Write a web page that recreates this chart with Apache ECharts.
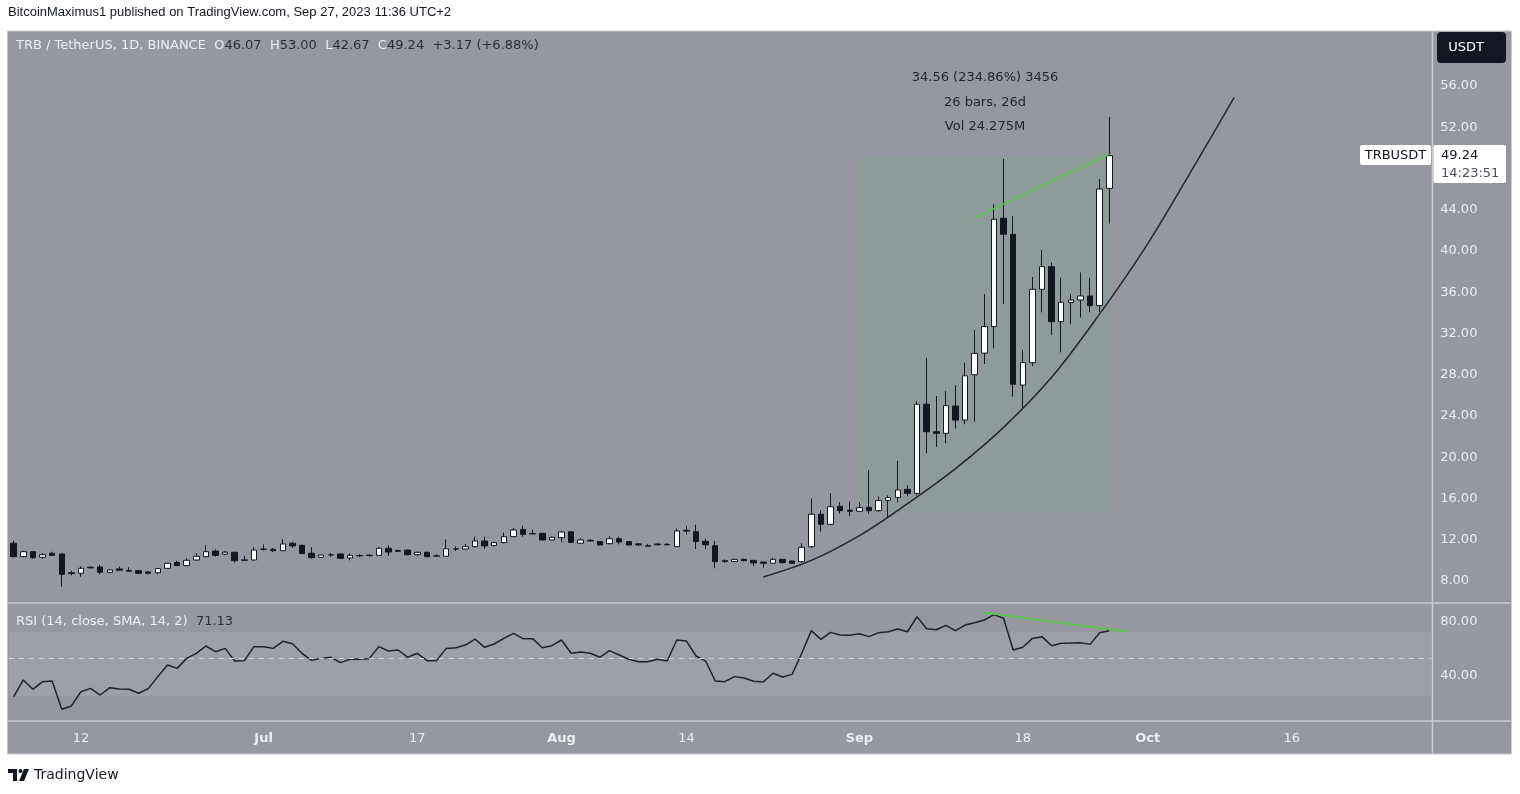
<!DOCTYPE html>
<html>
<head>
<meta charset="utf-8">
<title>TRB / TetherUS 1D</title>
<script src="https://cdn.jsdelivr.net/npm/echarts@6/dist/echarts.min.js"></script>
<style>
  html, body { margin: 0; padding: 0; background: #ffffff; }
  #main { width: 1520px; height: 794px; }
</style>
</head>
<body>
<div id="main"></div>
<script>
var chartDom = document.getElementById('main');
var myChart = echarts.init(chartDom, null, { renderer: 'canvas' });
var option;

const FONT = '"DejaVu Sans", Verdana, sans-serif';
const PUB_FONT = '"Liberation Sans", Arial, sans-serif';

// daily bars, 2023-06-05 .. 2023-09-27
const opens = [
  11.66, 10.36, 10.84, 10.30, 10.69, 10.62, 8.80, 8.75, 9.34, 9.36,
  8.84, 9.17, 9.02, 9.00, 8.88, 8.80, 9.23, 9.80, 9.49, 10.04,
  10.36, 10.90, 10.60, 10.78, 10.00, 10.04, 11.06, 11.07, 10.94, 11.66,
  11.46, 10.69, 10.30, 10.52, 10.62, 10.23, 10.47, 10.50, 10.49, 11.17,
  10.95, 11.00, 10.55, 10.78, 10.40, 10.40, 11.10, 11.10, 11.33, 11.88,
  11.43, 11.72, 12.30, 12.98, 12.60, 12.62, 11.98, 12.20, 12.78, 11.66,
  11.95, 11.82, 11.62, 12.10, 11.82, 11.60, 11.42, 11.58, 11.56, 11.33,
  12.92, 12.78, 11.85, 11.43, 9.97, 9.90, 10.10, 10.00, 9.84, 9.72,
  10.10, 9.94, 9.87, 11.33, 14.47, 13.50, 15.24, 14.86, 14.76, 15.14,
  14.82, 15.82, 16.10, 16.89, 16.50, 25.14, 22.48, 22.32, 24.97, 23.61,
  28.00, 30.10, 32.67, 43.18, 41.62, 27.00, 29.17, 36.29, 38.48, 33.15,
  35.00, 35.25, 35.64, 34.70, 46.07
];
const highs = [
  11.91, 10.95, 10.90, 10.72, 10.84, 10.66, 8.98, 9.42, 9.40, 9.55,
  9.15, 9.40, 9.33, 9.05, 8.95, 9.25, 9.75, 9.97, 10.20, 10.69,
  11.46, 11.07, 10.90, 10.85, 10.42, 11.27, 11.56, 11.20, 12.04, 11.80,
  11.50, 11.27, 10.55, 10.70, 10.65, 10.69, 10.60, 10.62, 11.30, 11.46,
  11.05, 11.05, 10.85, 10.85, 10.60, 12.04, 11.35, 11.60, 12.30, 12.30,
  11.80, 12.70, 13.14, 13.36, 12.98, 12.65, 12.30, 12.85, 12.82, 12.15,
  12.05, 11.85, 12.35, 12.30, 11.85, 11.68, 11.60, 11.70, 11.66, 13.10,
  13.33, 13.46, 12.10, 11.90, 10.10, 10.15, 10.18, 10.05, 9.90, 10.25,
  10.15, 9.98, 11.66, 16.00, 14.85, 16.50, 15.65, 15.70, 15.65, 18.76,
  16.20, 16.30, 19.64, 17.30, 25.45, 29.65, 25.94, 26.42, 27.00, 29.17,
  32.34, 35.83, 44.53, 48.92, 43.37, 30.40, 37.48, 40.10, 38.87, 37.41,
  35.83, 37.93, 37.41, 46.98, 53.00
];
const lows = [
  10.30, 10.30, 10.16, 10.16, 10.45, 7.45, 8.55, 8.42, 9.22, 8.65,
  8.78, 8.98, 8.92, 8.70, 8.65, 8.65, 9.20, 9.45, 9.45, 9.98,
  10.30, 10.36, 10.50, 9.78, 9.95, 9.98, 10.95, 10.80, 10.90, 11.20,
  10.60, 10.20, 10.25, 10.35, 10.18, 10.00, 10.35, 10.38, 10.45, 10.45,
  10.80, 10.50, 10.45, 10.30, 10.38, 10.35, 10.90, 11.05, 11.25, 11.10,
  11.35, 11.65, 12.25, 12.30, 12.52, 11.95, 11.95, 11.78, 11.70, 11.60,
  11.80, 11.45, 11.55, 11.55, 11.45, 11.38, 11.35, 11.42, 11.45, 11.30,
  12.50, 11.10, 11.10, 9.23, 9.75, 9.85, 9.92, 9.45, 9.30, 9.65,
  9.72, 9.65, 9.80, 11.20, 12.79, 13.40, 14.55, 14.30, 14.71, 14.55,
  14.71, 14.20, 15.65, 16.20, 16.30, 20.40, 21.00, 21.36, 22.80, 23.20,
  23.45, 29.04, 30.56, 34.86, 25.88, 24.65, 28.85, 34.05, 31.85, 30.17,
  32.90, 33.54, 34.05, 34.10, 42.67
];
const closes = [
  10.36, 10.84, 10.26, 10.55, 10.49, 8.65, 8.72, 9.23, 9.28, 8.84,
  9.07, 9.04, 8.95, 8.75, 8.75, 9.20, 9.72, 9.50, 10.01, 10.39,
  10.84, 10.49, 10.80, 9.97, 10.05, 11.00, 11.10, 10.94, 11.59, 11.40,
  10.66, 10.26, 10.52, 10.55, 10.20, 10.49, 10.44, 10.46, 11.17, 10.81,
  10.88, 10.55, 10.78, 10.36, 10.44, 11.12, 11.12, 11.33, 11.88, 11.40,
  11.72, 12.30, 12.95, 12.53, 12.57, 11.98, 12.24, 12.75, 11.75, 11.98,
  11.88, 11.49, 12.10, 11.78, 11.49, 11.50, 11.38, 11.52, 11.52, 12.85,
  12.84, 11.82, 11.52, 9.87, 9.90, 10.10, 9.97, 9.75, 9.72, 10.10,
  9.78, 9.72, 11.27, 14.47, 13.50, 15.20, 14.82, 14.76, 15.11, 14.82,
  15.79, 16.08, 16.82, 16.50, 25.14, 22.48, 22.32, 25.00, 23.61, 27.90,
  30.08, 32.67, 43.08, 41.62, 27.08, 29.17, 36.29, 38.48, 33.15, 35.03,
  35.25, 35.64, 34.70, 46.01, 49.24
];

// RSI (14) per bar
const rsi = [
  24.0, 36.5, 29.5, 35.2, 35.7, 14.5, 17.0, 27.7, 30.2, 25.2,
  30.7, 29.7, 29.5, 26.5, 30.0, 39.0, 47.7, 45.2, 52.7, 56.5,
  62.0, 57.7, 60.2, 50.7, 51.0, 61.5, 61.5, 60.2, 65.5, 63.7,
  56.5, 51.2, 52.7, 53.5, 49.5, 52.0, 52.0, 52.5, 61.5, 58.2,
  59.0, 53.5, 56.5, 51.0, 51.0, 60.2, 60.7, 62.7, 67.2, 61.0,
  63.5, 67.7, 71.5, 67.5, 67.5, 60.7, 62.2, 66.5, 56.5, 57.5,
  56.5, 53.5, 58.5, 55.2, 52.0, 50.2, 50.2, 52.0, 50.7, 66.5,
  65.7, 54.5, 50.7, 35.7, 35.2, 39.0, 38.0, 35.5, 35.0, 41.5,
  38.7, 40.7, 56.5, 73.5, 67.0, 72.2, 70.2, 70.0, 71.2, 69.0,
  72.0, 72.7, 74.7, 72.7, 84.0, 75.0, 74.2, 77.5, 73.5, 77.7,
  79.5, 81.5, 85.5, 82.8, 59.0, 61.0, 67.7, 69.0, 62.2, 64.0,
  64.2, 64.5, 63.2, 72.0, 73.5
];

// drawings
const curveDates = ['2023-08-22', '2023-08-27', '2023-09-01', '2023-09-06', '2023-09-11', '2023-09-16',
  '2023-09-21', '2023-09-26', '2023-10-01', '2023-10-06', '2023-10-10'];
const curvePrices = [8.39, 10.0, 12.4, 15.5, 18.9, 22.9, 27.75, 33.9, 40.7, 48.5, 54.9];
const priceTrendDates = ['2023-09-13', '2023-09-27'];
const priceTrendValues = [43.23, 49.4];
const rsiTrendDates = ['2023-09-14', '2023-09-29'];
const rsiTrendValues = [87.0, 72.7];
const rangeDates = ['2023-09-01', '2023-09-27'];
const rangePrices = [14.71, 49.27];

// axes
const priceTicks = [8, 12, 16, 20, 24, 28, 32, 36, 40, 44, 48, 52, 56];
const rsiTicks = [40, 80];
const tickDates = ['2023-06-12', '2023-07-01', '2023-07-17', '2023-08-01', '2023-08-14',
  '2023-09-01', '2023-09-18', '2023-10-01', '2023-10-16'];
const tickTexts = ['12', 'Jul', '17', 'Aug', '14', 'Sep', '18', 'Oct', '16'];

const categories = [];
for (let t = Date.UTC(2023, 5, 5); t <= Date.UTC(2023, 9, 30); t += 86400000) {
  categories.push(new Date(t).toISOString().slice(0, 10));
}

const ohlc = opens.map((o, i) => [o, closes[i], lows[i], highs[i]]);

const PANE = '#9598a1';
const LIGHT = '#eceef2';
const DARK = '#131722';
const SEP = '#c9ccd3';
const GREEN = '#4ccf3c';

function timeLabel(value) {
  let i = tickDates.indexOf(value);
  if (i < 0) return '';
  let t = tickTexts[i];
  return /^\d+$/.test(t) ? t : '{b|' + t + '}';
}

option = {
  animation: false,
  backgroundColor: '#ffffff',
  textStyle: { fontFamily: FONT },
  grid: [
    { left: 8.9, width: 1422.3, top: 31, height: 572 },
    { left: 8.9, width: 1422.3, top: 603, height: 118 }
  ],
  xAxis: [
    {
      type: 'category', gridIndex: 0, data: categories, boundaryGap: true,
      axisLine: { show: false }, axisTick: { show: false },
      axisLabel: { show: false }, splitLine: { show: false }
    },
    {
      type: 'category', gridIndex: 1, data: categories, boundaryGap: true,
      axisLine: { show: false }, axisTick: { show: false }, splitLine: { show: false },
      axisLabel: {
        interval: (index, value) => tickDates.indexOf(value) >= 0,
        formatter: timeLabel,
        color: LIGHT, fontSize: 13, margin: 11, fontFamily: FONT,
        rich: { b: { fontWeight: 'bold', color: LIGHT, fontSize: 13, fontFamily: FONT } }
      }
    }
  ],
  yAxis: [
    {
      type: 'value', gridIndex: 0, position: 'right', min: 5.867, max: 61.333,
      axisLine: { show: false }, axisTick: { show: false }, splitLine: { show: false },
      axisLabel: {
        customValues: priceTicks,
        formatter: v => v.toFixed(2),
        color: LIGHT, fontSize: 13, margin: 9, fontFamily: FONT
      }
    },
    {
      type: 'value', gridIndex: 1, position: 'right', min: 5.70, max: 94.26,
      axisLine: { show: false }, axisTick: { show: false }, splitLine: { show: false },
      axisLabel: {
        customValues: rsiTicks,
        formatter: v => v.toFixed(2),
        color: LIGHT, fontSize: 13, margin: 9, fontFamily: FONT
      }
    }
  ],
  series: [
    {
      name: 'TRBUSDT',
      type: 'candlestick',
      xAxisIndex: 0, yAxisIndex: 0,
      barWidth: 6,
      data: ohlc,
      itemStyle: {
        color: '#ffffff', color0: DARK,
        borderColor: DARK, borderColor0: DARK, borderWidth: 1
      },
      markArea: {
        silent: true,
        itemStyle: { color: 'rgba(90,175,95,0.09)' },
        data: [[
          { xAxis: rangeDates[0], yAxis: rangePrices[1] },
          { xAxis: rangeDates[1], yAxis: rangePrices[0] }
        ]]
      },
      z: 3
    },
    {
      name: 'curve',
      type: 'line',
      xAxisIndex: 0, yAxisIndex: 0,
      data: curveDates.map((d, i) => [d, curvePrices[i]]),
      smooth: 0.35,
      symbol: 'none',
      lineStyle: { color: '#22262f', width: 1.5 },
      z: 4
    },
    {
      name: 'priceTrend',
      type: 'line',
      xAxisIndex: 0, yAxisIndex: 0,
      data: priceTrendDates.map((d, i) => [d, priceTrendValues[i]]),
      symbol: 'none',
      lineStyle: { color: GREEN, width: 1.5 },
      z: 5
    },
    {
      name: 'RSI',
      type: 'line',
      xAxisIndex: 1, yAxisIndex: 1,
      data: rsi,
      symbol: 'none',
      lineStyle: { color: '#1e222d', width: 1.5 },
      markArea: {
        silent: true,
        itemStyle: { color: 'rgba(255,255,255,0.08)' },
        data: [[{ yAxis: 72.5 }, { yAxis: 24.5 }]]
      },
      markLine: {
        silent: true,
        symbol: 'none',
        label: { show: false },
        lineStyle: { color: '#d1d4dc', type: [5, 5], width: 1 },
        data: [{ yAxis: 53 }]
      },
      z: 4
    },
    {
      name: 'rsiTrend',
      type: 'line',
      xAxisIndex: 1, yAxisIndex: 1,
      data: rsiTrendDates.map((d, i) => [d, rsiTrendValues[i]]),
      symbol: 'none',
      lineStyle: { color: GREEN, width: 1.5 },
      z: 5
    }
  ],
  graphic: [
    // panel background and separators
    { type: 'rect', z: -10, shape: { x: 7.5, y: 31, width: 1504, height: 723 },
      style: { fill: PANE, stroke: SEP, lineWidth: 1 } },
    { type: 'line', z: 10, shape: { x1: 7.5, y1: 603, x2: 1511.5, y2: 603 }, style: { stroke: SEP, lineWidth: 1.5 } },
    { type: 'line', z: 10, shape: { x1: 7.5, y1: 721, x2: 1511.5, y2: 721 }, style: { stroke: SEP, lineWidth: 1.5 } },
    { type: 'line', z: 10, shape: { x1: 1432.5, y1: 31, x2: 1432.5, y2: 754 }, style: { stroke: SEP, lineWidth: 1.5 } },

    // publisher line
    { type: 'text', left: 8, top: 6, z: 20,
      style: { text: 'BitcoinMaximus1 published on TradingView.com, Sep 27, 2023 11:36 UTC+2',
        fill: '#131722', font: '13px ' + PUB_FONT } },

    // legend
    { type: 'text', left: 16, top: 39, z: 20,
      style: {
        text: '{w|TRB / TetherUS, 1D, BINANCE}  {w|O}{d|46.07}  {w|H}{d|53.00}  {w|L}{d|42.67}  {w|C}{d|49.24}  {d|+3.17 (+6.88%)}',
        font: '13px ' + FONT,
        rich: {
          w: { fill: LIGHT, font: '13px ' + FONT },
          d: { fill: '#2a2e39', font: '13px ' + FONT }
        }
      } },

    // currency badge
    { type: 'rect', z: 20, shape: { x: 1437, y: 32, width: 69, height: 31, r: 4 }, style: { fill: DARK } },
    { type: 'text', z: 21, x: 1466, y: 48,
      style: { text: 'USDT', fill: '#ffffff', font: '13px ' + FONT, align: 'center', verticalAlign: 'middle' } },

    // last price labels
    { type: 'rect', z: 20, shape: { x: 1360, y: 145, width: 71, height: 20, r: 2 }, style: { fill: '#ffffff' } },
    { type: 'text', z: 21, x: 1395.5, y: 155.5,
      style: { text: 'TRBUSDT', fill: DARK, font: '13px ' + FONT, align: 'center', verticalAlign: 'middle' } },
    { type: 'rect', z: 20, shape: { x: 1433.5, y: 145, width: 72.5, height: 38, r: 2 }, style: { fill: '#ffffff' } },
    { type: 'text', z: 21, x: 1441, y: 156,
      style: { text: '49.24', fill: DARK, font: '13px ' + FONT, verticalAlign: 'middle' } },
    { type: 'text', z: 21, x: 1441, y: 174,
      style: { text: '14:23:51', fill: '#4a4e59', font: '13px ' + FONT, verticalAlign: 'middle' } },

    // range measurement text
    { type: 'text', z: 21, x: 985, y: 78,
      style: { text: '34.56 (234.86%) 3456', fill: '#22262f', font: '13px ' + FONT, align: 'center', verticalAlign: 'middle' } },
    { type: 'text', z: 21, x: 985, y: 102.5,
      style: { text: '26 bars, 26d', fill: '#22262f', font: '13px ' + FONT, align: 'center', verticalAlign: 'middle' } },
    { type: 'text', z: 21, x: 985, y: 127,
      style: { text: 'Vol 24.275M', fill: '#22262f', font: '13px ' + FONT, align: 'center', verticalAlign: 'middle' } },

    // RSI legend
    { type: 'text', left: 16, top: 615, z: 20,
      style: {
        text: '{w|RSI (14, close, SMA, 14, 2)}  {d|71.13}',
        font: '13px ' + FONT,
        rich: {
          w: { fill: LIGHT, font: '13px ' + FONT },
          d: { fill: '#2a2e39', font: '13px ' + FONT }
        }
      } },

    // footer logo
    { type: 'polygon', z: 20, shape: { points: [[8, 769], [17, 769], [17, 781], [13, 781], [13, 773], [8, 773]] },
      style: { fill: DARK } },
    { type: 'circle', z: 20, shape: { cx: 20.5, cy: 771, r: 2 }, style: { fill: DARK } },
    { type: 'polygon', z: 20, shape: { points: [[24, 769], [29, 769], [24, 781], [19, 781]] },
      style: { fill: DARK } },
    { type: 'text', left: 34, top: 768, z: 20,
      style: { text: 'TradingView', fill: DARK, font: '14px ' + FONT } }
  ]
};

option && myChart.setOption(option);
</script>
</body>
</html>
